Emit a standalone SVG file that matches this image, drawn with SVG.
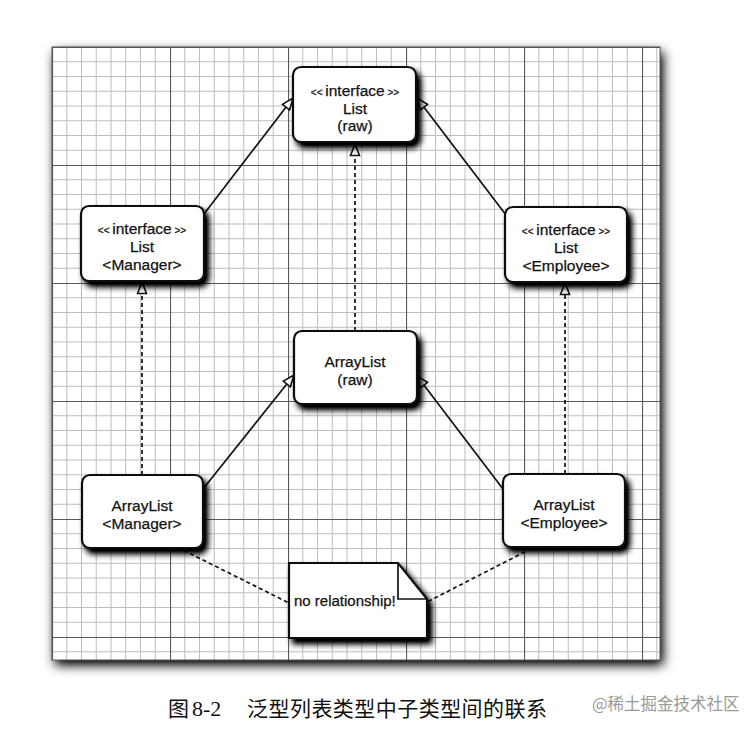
<svg xmlns="http://www.w3.org/2000/svg" width="752" height="733" viewBox="0 0 752 733">
<style>
.node{fill:#fff;stroke:#111;stroke-width:2.2}
.t{font-family:"Liberation Sans",Arial,sans-serif;font-size:15.5px;fill:#111;stroke:#111;stroke-width:0.25;text-anchor:middle}
.sm{font-size:10px}
.c{stroke:#111;stroke-width:1.7;fill:none}
.d{stroke-dasharray:4 3}
.cap{font-family:"Liberation Serif","Noto Sans CJK SC",serif;font-size:21px;fill:#111}
</style>
<defs>
<pattern id="grid" patternUnits="userSpaceOnUse" x="52" y="47" width="118" height="118">
<rect width="118" height="118" fill="#fff"/>
<g stroke="#bdbdbd" stroke-width="1">
<path d="M14.75 0V118M29.5 0V118M44.25 0V118M59 0V118M73.75 0V118M88.5 0V118M103.25 0V118"/>
<path d="M0 14.75H118M0 29.5H118M0 44.25H118M0 59H118M0 73.75H118M0 88.5H118M0 103.25H118"/>
</g>
<path d="M0.5 0V118M0 0.5H118" stroke="#5a5a5a" stroke-width="1.2"/>
</pattern>
<filter id="sh" x="-20%" y="-20%" width="150%" height="160%">
<feGaussianBlur in="SourceAlpha" stdDeviation="3" result="b"/>
<feOffset dx="4" dy="5" result="o"/>
<feComponentTransfer in="o" result="s"><feFuncA type="linear" slope="1.2"/></feComponentTransfer>
<feMerge><feMergeNode in="s"/><feMergeNode in="SourceGraphic"/></feMerge>
</filter>
<filter id="psh" x="-10%" y="-10%" width="120%" height="120%">
<feGaussianBlur in="SourceAlpha" stdDeviation="6" result="b"/>
<feOffset dx="3" dy="5" result="o"/>
<feComponentTransfer in="o" result="s"><feFuncA type="linear" slope="1.1"/></feComponentTransfer>
<feMerge><feMergeNode in="s"/><feMergeNode in="SourceGraphic"/></feMerge>
</filter>
<marker id="tri" viewBox="0 0 14 12" refX="13" refY="6" markerWidth="14" markerHeight="12" markerUnits="userSpaceOnUse" orient="auto">
<path d="M1.5 1.5L13 6L1.5 10.5Z" fill="#fff" stroke="#111" stroke-width="1.6"/>
</marker>
</defs>
<rect width="752" height="733" fill="#fff"/>
<g id="panel">
<rect x="52" y="47" width="608" height="613" fill="url(#grid)" filter="url(#psh)"/>
<rect x="52" y="47" width="608" height="613" fill="none" stroke="#555" stroke-width="1"/>
</g>
<g id="connectors">
<line class="c" x1="204" y1="214" x2="293" y2="98" marker-end="url(#tri)"/>
<line class="c" x1="506" y1="215" x2="417" y2="98" marker-end="url(#tri)"/>
<line class="c d" x1="355" y1="331" x2="355" y2="144" marker-end="url(#tri)"/>
<line class="c d" x1="142" y1="475" x2="142" y2="282" marker-end="url(#tri)"/>
<line class="c d" x1="565" y1="474" x2="565" y2="283" marker-end="url(#tri)"/>
<line class="c" x1="203" y1="489" x2="294" y2="375" marker-end="url(#tri)"/>
<line class="c" x1="503" y1="489" x2="417" y2="376" marker-end="url(#tri)"/>
<line class="c d" x1="165" y1="541" x2="289" y2="603"/>
<line class="c d" x1="550" y1="539" x2="427" y2="602"/>
</g>
<g id="list_raw">
<rect class="node" x="293" y="67" width="123" height="75" rx="8" filter="url(#sh)"/>
<text class="t" x="355" y="96"><tspan class="sm">&lt;&lt; </tspan>interface<tspan class="sm"> &gt;&gt;</tspan></text>
<text class="t" x="355" y="114">List</text>
<text class="t" x="355" y="131">(raw)</text>
</g>
<g id="list_manager">
<rect class="node" x="81" y="206" width="123" height="75" rx="8" filter="url(#sh)"/>
<text class="t" x="142" y="234"><tspan class="sm">&lt;&lt; </tspan>interface<tspan class="sm"> &gt;&gt;</tspan></text>
<text class="t" x="142" y="252">List</text>
<text class="t" x="142" y="270">&lt;Manager&gt;</text>
</g>
<g id="list_employee">
<rect class="node" x="505" y="207" width="122" height="75" rx="8" filter="url(#sh)"/>
<text class="t" x="566" y="235"><tspan class="sm">&lt;&lt; </tspan>interface<tspan class="sm"> &gt;&gt;</tspan></text>
<text class="t" x="566" y="253">List</text>
<text class="t" x="566" y="271">&lt;Employee&gt;</text>
</g>
<g id="arraylist_raw">
<rect class="node" x="294" y="331" width="123" height="73" rx="8" filter="url(#sh)"/>
<text class="t" x="355" y="367">ArrayList</text>
<text class="t" x="355" y="385">(raw)</text>
</g>
<g id="arraylist_manager">
<rect class="node" x="82" y="475" width="121" height="73" rx="8" filter="url(#sh)"/>
<text class="t" x="142" y="511">ArrayList</text>
<text class="t" x="142" y="529">&lt;Manager&gt;</text>
</g>
<g id="arraylist_employee">
<rect class="node" x="503" y="474" width="122" height="73" rx="8" filter="url(#sh)"/>
<text class="t" x="564" y="510">ArrayList</text>
<text class="t" x="564" y="528">&lt;Employee&gt;</text>
</g>
<g id="note">
<path d="M289 563H398L427 599V638H289Z" fill="#fff" stroke="#111" stroke-width="2.2" filter="url(#sh)"/>
<path d="M398 563V599H427" fill="none" stroke="#111" stroke-width="1.7"/>
<text x="294" y="606" style="font-family:'Liberation Sans',Arial,sans-serif;font-size:15px;fill:#111;stroke:#111;stroke-width:0.25">no relationship!</text>
</g>
<g id="caption">
<text class="cap" x="168" y="716" style="font-family:'Noto Sans CJK SC',serif">图</text>
<text class="cap" x="192" y="716" style="font-size:22px">8-2</text>
<text class="cap" x="247" y="716" textLength="300" lengthAdjust="spacing" style="font-family:'Noto Sans CJK SC',serif">泛型列表类型中子类型间的联系</text>
<text x="592" y="710" style="font-family:'Noto Sans CJK SC',sans-serif;font-size:16.5px;fill:#9a9a9a">@稀土掘金技术社区</text>
</g>
</svg>
